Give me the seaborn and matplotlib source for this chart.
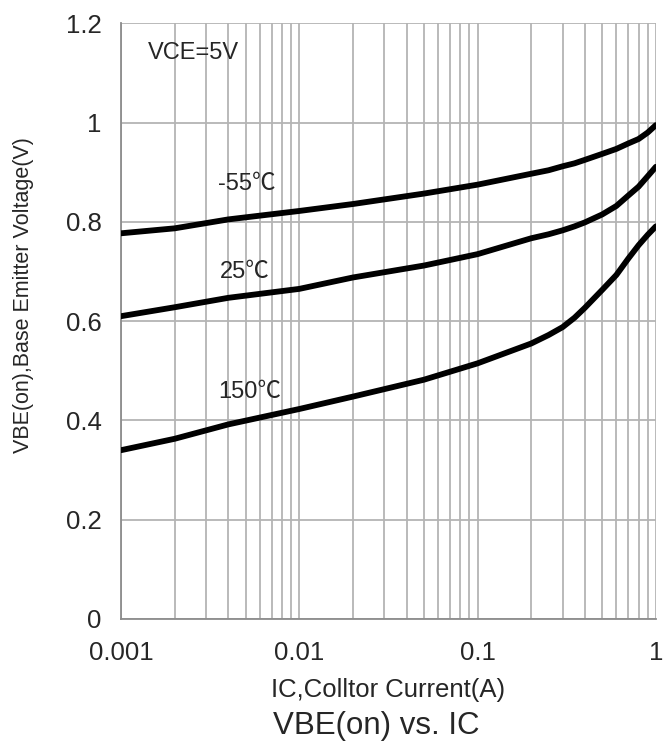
import numpy as np
import pandas as pd
import matplotlib
matplotlib.use('Agg')
import matplotlib.pyplot as plt
import seaborn as sns
from matplotlib.ticker import LogLocator, FixedLocator, NullFormatter

ic = [0.001, 0.002, 0.004, 0.01, 0.02, 0.05, 0.1, 0.2, 0.25, 0.3, 0.35, 0.4, 0.5, 0.6, 0.7, 0.8, 0.9, 1.0]
vbe_m55 = [0.777, 0.787, 0.805, 0.822, 0.836, 0.857, 0.875, 0.897, 0.904, 0.912, 0.918, 0.925,
           0.937, 0.947, 0.958, 0.967, 0.980, 0.995]
vbe_25 = [0.610, 0.628, 0.647, 0.665, 0.688, 0.712, 0.735, 0.767, 0.775, 0.783, 0.791, 0.799,
          0.815, 0.832, 0.853, 0.871, 0.892, 0.911]
vbe_150 = [0.340, 0.363, 0.392, 0.423, 0.448, 0.482, 0.515, 0.555, 0.572, 0.588, 0.607, 0.627,
           0.663, 0.693, 0.726, 0.753, 0.774, 0.791]
temps = ['-55℃', '25℃', '150℃']

sns.set_style('white')
plt.rcParams['font.family'] = ['Liberation Sans', 'Noto Sans CJK SC', 'DejaVu Sans']

n = len(ic)
df = pd.DataFrame({'IC': ic * 3,
                   'VBE': vbe_m55 + vbe_25 + vbe_150,
                   'T': [temps[0]] * n + [temps[1]] * n + [temps[2]] * n})

fig = plt.figure(figsize=(6.72, 7.53), dpi=100)
ax = fig.add_axes([0.180, 0.178, 0.796, 0.791])

sns.lineplot(data=df, x='IC', y='VBE', units='T', estimator=None, color='black',
             linewidth=4.2, ax=ax, legend=False, zorder=3)

ax.set_xscale('log')
ax.set_xlim(0.001, 1)
ax.set_ylim(0, 1.2)
ax.xaxis.set_major_locator(FixedLocator([0.001, 0.01, 0.1, 1]))
ax.set_xticklabels(['0.001', '0.01', '0.1', '1'])
ax.xaxis.set_minor_locator(LogLocator(base=10, subs=np.arange(2, 10)))
ax.xaxis.set_minor_formatter(NullFormatter())
ax.set_yticks([0, 0.2, 0.4, 0.6, 0.8, 1.0, 1.2])
ax.set_yticklabels(['0', '0.2', '0.4', '0.6', '0.8', '1', '1.2'])

grid_c = '#b4b4b4'
ax.grid(True, which='major', axis='both', color=grid_c, linewidth=1.3, zorder=0)
ax.grid(True, which='minor', axis='x', color=grid_c, linewidth=1.3, zorder=0)
for s in ['top', 'right']:
    ax.spines[s].set_visible(False)
for s in ['left', 'bottom']:
    ax.spines[s].set_color('#8c8c8c')
    ax.spines[s].set_linewidth(1.3)
ax.tick_params(axis='both', which='major', length=6, width=1.3, color='#8c8c8c',
               labelsize=18.5, pad=8, direction='out')
ax.tick_params(axis='x', which='minor', length=0)
ax.tick_params(axis='x', which='major', pad=10)

ax.set_xlabel('')
ax.set_ylabel('')

ax.text(0.00142, 1.14, 'VCE=5V', fontsize=17, va='center', ha='left')
ax.text(0.0035, 0.876, temps[0], fontsize=17, va='center', ha='left')
ax.text(0.00359, 0.699, temps[1], fontsize=17, va='center', ha='left')
ax.text(0.0035, 0.457, temps[2], fontsize=17, va='center', ha='left')

fig.text(24 / 672, 1 - 295 / 753, 'VBE(on),Base Emitter Voltage(V)', fontsize=15.5,
         rotation=90, ha='center', va='center')
fig.text(388 / 672, 1 - 690 / 753, 'IC,Colltor Current(A)', fontsize=18.5, ha='center', va='center')
fig.text(376 / 672, 1 - 726 / 753, 'VBE(on) vs. IC', fontsize=22.5, ha='center', va='center')

fig.savefig('out.png', dpi=100)
